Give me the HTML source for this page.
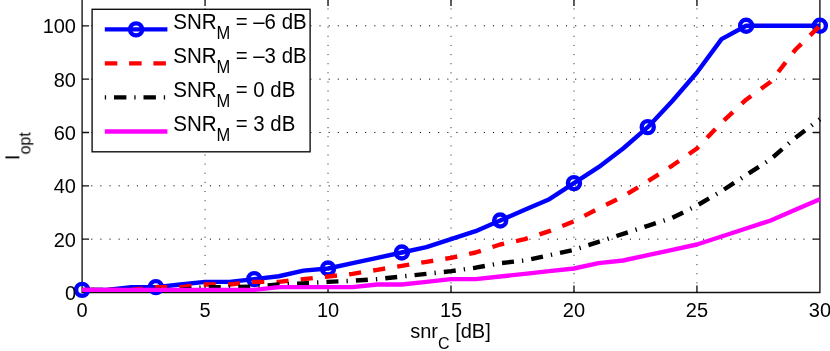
<!DOCTYPE html>
<html><head><meta charset="utf-8"><title>plot</title>
<style>
html,body{margin:0;padding:0;background:#fff;}
body{width:830px;height:351px;overflow:hidden;font-family:"Liberation Sans",sans-serif;}
svg{display:block;}
text{font-family:"Liberation Sans",sans-serif;fill:#000;}
</style></head><body>
<svg width="830" height="351" viewBox="0 0 830 351">
<rect width="830" height="351" fill="#fff"/>
<g stroke="#000" stroke-width="1" stroke-dasharray="1.1 8.03" fill="none"><line x1="205.07" y1="292.50" x2="205.07" y2="-5" stroke-opacity="0.8"/><line x1="328.03" y1="292.50" x2="328.03" y2="-5" stroke-opacity="0.8"/><line x1="451.00" y1="292.50" x2="451.00" y2="-5" stroke-opacity="0.8"/><line x1="573.97" y1="292.50" x2="573.97" y2="-5" stroke-opacity="0.8"/><line x1="696.93" y1="292.50" x2="696.93" y2="-5" stroke-opacity="0.8"/><line x1="82.10" y1="239.16" x2="819.90" y2="239.16" /><line x1="82.10" y1="185.82" x2="819.90" y2="185.82" /><line x1="82.10" y1="132.48" x2="819.90" y2="132.48" /><line x1="82.10" y1="79.14" x2="819.90" y2="79.14" /><line x1="82.10" y1="25.80" x2="819.90" y2="25.80" /></g>
<g stroke="#111" stroke-width="1.35" fill="none"><path d="M82.10,-5 V292.50 H819.90 V-5"/><path d="M205.07,292.50 v-7 M205.07,-0.9 v7"/><path d="M328.03,292.50 v-7 M328.03,-0.9 v7"/><path d="M451.00,292.50 v-7 M451.00,-0.9 v7"/><path d="M573.97,292.50 v-7 M573.97,-0.9 v7"/><path d="M696.93,292.50 v-7 M696.93,-0.9 v7"/><path d="M82.10,239.16 h7 M819.90,239.16 h-7"/><path d="M82.10,185.82 h7 M819.90,185.82 h-7"/><path d="M82.10,132.48 h7 M819.90,132.48 h-7"/><path d="M82.10,79.14 h7 M819.90,79.14 h-7"/><path d="M82.10,25.80 h7 M819.90,25.80 h-7"/></g>
<g fill="none" stroke-width="4.4" stroke-linejoin="round"><path d="M82.10,289.83 L106.69,289.83 L131.29,287.17 L155.88,287.17 L180.47,284.50 L205.07,281.83 L229.66,281.83 L254.25,279.17 L278.85,276.23 L303.44,270.63 L328.03,268.50 L352.63,263.16 L377.22,257.83 L401.81,252.50 L426.41,247.16 L451.00,239.16 L475.59,231.16 L500.19,220.49 L524.78,209.82 L549.37,199.16 L573.97,183.15 L598.56,167.15 L623.15,148.48 L647.75,127.15 L672.34,101.01 L696.93,72.47 L721.53,39.14 L746.12,25.80 L770.71,25.80 L795.31,25.80 L819.90,25.80" stroke="#0000ff"/><circle cx="82.10" cy="289.83" r="6" stroke="#0000ff"/><circle cx="155.88" cy="287.17" r="6" stroke="#0000ff"/><circle cx="254.25" cy="279.17" r="6" stroke="#0000ff"/><circle cx="328.03" cy="268.50" r="6" stroke="#0000ff"/><circle cx="401.81" cy="252.50" r="6" stroke="#0000ff"/><circle cx="500.19" cy="220.49" r="6" stroke="#0000ff"/><circle cx="573.97" cy="183.15" r="6" stroke="#0000ff"/><circle cx="647.75" cy="127.15" r="6" stroke="#0000ff"/><circle cx="746.12" cy="25.80" r="6" stroke="#0000ff"/><circle cx="819.90" cy="25.80" r="6" stroke="#0000ff"/><path d="M82.10,289.83 L106.69,289.83 L131.29,289.83 L155.88,287.17 L180.47,287.17 L205.07,284.50 L229.66,284.50 L254.25,281.83 L278.85,281.83 L303.44,279.17 L328.03,276.50 L352.63,273.83 L377.22,269.83 L401.81,265.83 L426.41,261.83 L451.00,257.83 L475.59,252.50 L500.19,244.49 L524.78,239.16 L549.37,231.16 L573.97,221.29 L598.56,208.49 L623.15,196.49 L647.75,181.29 L672.34,165.55 L696.93,148.48 L721.53,122.61 L746.12,99.68 L770.71,81.81 L795.31,49.80 L819.90,25.80" stroke="#ff0000" stroke-dasharray="12.15 12.2"/><path d="M82.10,289.83 L106.69,289.83 L131.29,289.83 L155.88,289.83 L180.47,289.83 L205.07,287.17 L229.66,287.17 L254.25,286.63 L278.85,284.50 L303.44,283.43 L328.03,281.83 L352.63,280.77 L377.22,279.17 L401.81,276.50 L426.41,273.83 L451.00,271.16 L475.59,267.70 L500.19,263.16 L524.78,260.50 L549.37,255.16 L573.97,249.83 L598.56,241.83 L623.15,233.83 L647.75,225.82 L672.34,217.82 L696.93,205.56 L721.53,191.15 L746.12,175.15 L770.71,159.15 L795.31,137.81 L819.90,119.15" stroke="#000" stroke-dasharray="1.3 8.08 12 8.08" stroke-dashoffset="0.4"/><path d="M82.10,289.83 L106.69,289.83 L131.29,289.83 L155.88,289.83 L180.47,289.83 L205.07,289.83 L229.66,289.83 L254.25,289.83 L278.85,287.17 L303.44,287.17 L328.03,287.17 L352.63,287.17 L377.22,284.50 L401.81,284.50 L426.41,281.83 L451.00,279.17 L475.59,279.17 L500.19,276.50 L524.78,273.83 L549.37,271.16 L573.97,268.50 L598.56,263.16 L623.15,260.50 L647.75,255.16 L672.34,249.83 L696.93,244.49 L721.53,236.49 L746.12,228.49 L770.71,220.49 L795.31,209.82 L819.90,199.16" stroke="#ff00ff"/></g>
<g font-size="20" opacity="0.999"><text x="82.10" y="317" text-anchor="middle">0</text><text x="205.07" y="317" text-anchor="middle">5</text><text x="328.03" y="317" text-anchor="middle">10</text><text x="451.00" y="317" text-anchor="middle">15</text><text x="573.97" y="317" text-anchor="middle">20</text><text x="696.93" y="317" text-anchor="middle">25</text><text x="819.90" y="317" text-anchor="middle">30</text><text x="76.0" y="300.00" text-anchor="end">0</text><text x="76.0" y="246.66" text-anchor="end">20</text><text x="76.0" y="193.32" text-anchor="end">40</text><text x="76.0" y="139.98" text-anchor="end">60</text><text x="76.0" y="86.64" text-anchor="end">80</text><text x="76.0" y="33.30" text-anchor="end">100</text><text x="450.5" y="337.9" text-anchor="middle">snr<tspan font-size="16" dy="10.7">C</tspan><tspan dy="-10.7"> [dB]</tspan></text><text transform="translate(19.4,146.2) rotate(-90)" text-anchor="middle">I<tspan font-size="16" dy="10.8">opt</tspan></text></g>
<rect x="92.10" y="9.30" width="218.00" height="142.50" fill="#fff" stroke="#111" stroke-width="1.4"/><g fill="none" stroke-width="4.4"><path d="M104.8,29.4 H167.4" stroke="#0000ff"/><circle cx="136.1" cy="29.4" r="6" stroke="#0000ff"/><path d="M104.8,63.4 H167.4" stroke="#ff0000" stroke-dasharray="12.5 11.8"/><path d="M104.8,97.4 H167.4" stroke="#000" stroke-dasharray="1.3 7.9 12.4 7.9"/><path d="M104.8,131.5 H167.4" stroke="#ff00ff"/></g>
<g font-size="20.6" opacity="0.999"><text transform="translate(173.2,28.5) scale(1,1.06)">SNR<tspan font-size="16.5" dy="9.5" dx="-0.3">M</tspan><tspan dy="-9.5" dx="-0.1" font-size="20.4"> = –6 dB</tspan></text><text transform="translate(173.2,62.5) scale(1,1.06)">SNR<tspan font-size="16.5" dy="9.5" dx="-0.3">M</tspan><tspan dy="-9.5" dx="-0.1" font-size="20.4"> = –3 dB</tspan></text><text transform="translate(173.2,96.8) scale(1,1.06)">SNR<tspan font-size="16.5" dy="9.5" dx="-0.3">M</tspan><tspan dy="-9.5" dx="-0.1" font-size="20.4"> = 0 dB</tspan></text><text transform="translate(173.2,130.9) scale(1,1.06)">SNR<tspan font-size="16.5" dy="9.5" dx="-0.3">M</tspan><tspan dy="-9.5" dx="-0.1" font-size="20.4"> = 3 dB</tspan></text></g>
</svg></body></html>
